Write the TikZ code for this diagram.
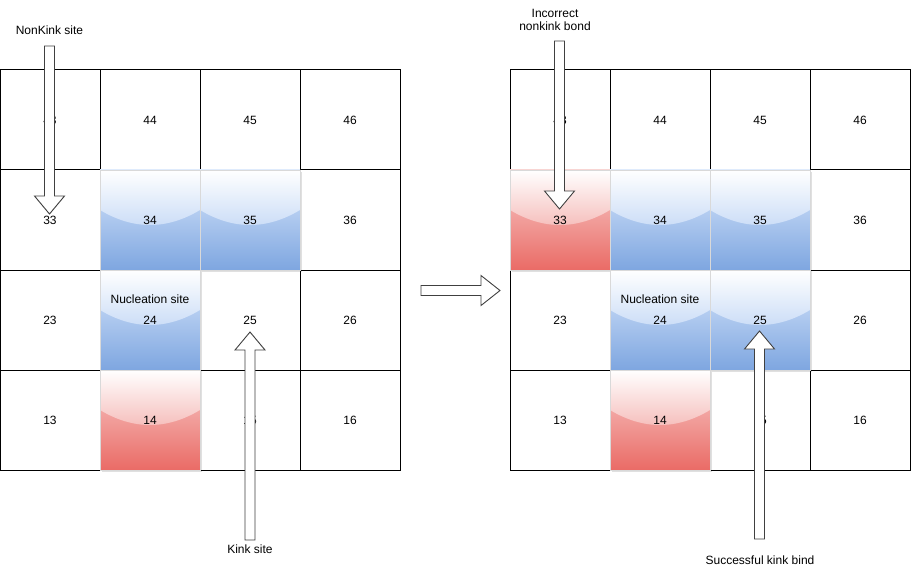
\documentclass[tikz,border=0pt]{standalone}
\usepackage{fontspec}
\setmainfont{Liberation Sans}
\usetikzlibrary{calc}
\definecolor{blueA}{HTML}{DAE8FC}
\definecolor{blueB}{HTML}{7EA6E0}
\definecolor{redA}{HTML}{F8CECC}
\definecolor{redB}{HTML}{EA6B66}
\colorlet{blueH}{blueA!80!blueB}
\colorlet{redH}{redA!80!redB}
\tikzset{
  gridcell/.style={draw=black, line width=1pt, fill=white, minimum size=100pt, inner sep=0pt, font=\fontsize{12}{14}\selectfont},
  celltext/.style={inner sep=0pt, font=\fontsize{12}{14}\selectfont},
  lbl/.style={inner sep=0pt, align=center, font=\fontsize{12}{13}\selectfont},
  blockarrow/.style={draw=black!75, fill=white, line width=0.9pt, line join=miter},
}
\newcommand\glasscell[5]{%
  \begin{scope}[shift={(#2,#3)}]
    \fill[black, opacity=0.12] (2,2) rectangle (102,102);
    \shade[top color=#5A, bottom color=#5B] (0,0) rectangle (100,100);
    \shade[top color=white, bottom color=#5H] (0,0) -- (100,0) -- (100,40) .. controls (66.67,60) and (33.33,60) .. (0,40) -- cycle;
    \draw[white!85!black, line width=0.6pt] (0,0) rectangle (100,100);
    \node[celltext] (#1) at (50,50) {#4};
  \end{scope}}
\newcommand\varrow[3]{%
  \draw[blockarrow] ($(#1)+(-5,0)$) -- ($(#1)+(5,0)$) -- ($(#2)+(5,#3)$) -- ($(#2)+(15,#3)$) -- (#2) -- ($(#2)+(-15,#3)$) -- ($(#2)+(-5,#3)$) -- cycle;}
\begin{document}
\begin{tikzpicture}[x=1pt,y=-1pt]
\fill[white] (0,0) rectangle (912,572);
\useasboundingbox (0,0) rectangle (912,572);
% left grid
\node[gridcell] (L43) at (50,120) {43};
\node[gridcell] (L44) at (150,120) {44};
\node[gridcell] (L45) at (250,120) {45};
\node[gridcell] (L46) at (350,120) {46};
\node[gridcell] (L33) at (50,220) {33};
\node[gridcell] (L34g) at (150,220) {};
\node[gridcell] (L35g) at (250,220) {};
\node[gridcell] (L36) at (350,220) {36};
\node[gridcell] (L23) at (50,320) {23};
\node[gridcell] (L24g) at (150,320) {};
\node[gridcell] (L25) at (250,320) {25};
\node[gridcell] (L26) at (350,320) {26};
\node[gridcell] (L13) at (50,420) {13};
\node[gridcell] (L14g) at (150,420) {};
\node[gridcell] (L15) at (250,420) {15};
\node[gridcell] (L16) at (350,420) {16};
% right grid
\node[gridcell] (R43) at (560,120) {43};
\node[gridcell] (R44) at (660,120) {44};
\node[gridcell] (R45) at (760,120) {45};
\node[gridcell] (R46) at (860,120) {46};
\node[gridcell] (R33g) at (560,220) {};
\node[gridcell] (R34g) at (660,220) {};
\node[gridcell] (R35g) at (760,220) {};
\node[gridcell] (R36) at (860,220) {36};
\node[gridcell] (R23) at (560,320) {23};
\node[gridcell] (R24g) at (660,320) {};
\node[gridcell] (R25g) at (760,320) {};
\node[gridcell] (R26) at (860,320) {26};
\node[gridcell] (R13) at (560,420) {13};
\node[gridcell] (R14g) at (660,420) {};
\node[gridcell] (R15) at (760,420) {15};
\node[gridcell] (R16) at (860,420) {16};
% glass cells
\glasscell{L34}{100}{170}{34}{blue}
\glasscell{L35}{200}{170}{35}{blue}
\glasscell{L24}{100}{270}{24}{blue}
\glasscell{L14}{100}{370}{14}{red}
\glasscell{R33}{510}{170}{33}{red}
\glasscell{R34}{610}{170}{34}{blue}
\glasscell{R35}{710}{170}{35}{blue}
\glasscell{R24}{610}{270}{24}{blue}
\glasscell{R25}{710}{270}{25}{blue}
\glasscell{R14}{610}{370}{14}{red}
\node[lbl] (Lnuc) at (150,299) {Nucleation site};
\node[lbl] (Rnuc) at (660,299) {Nucleation site};
% labels
\node[lbl] (nk) at (49.5,30) {NonKink site};
\node[lbl] (inc) at (555,19.5) {Incorrect\\nonkink bond};
\node[lbl] (ks) at (250,549) {Kink site};
\node[lbl] (skb) at (760,560) {Successful kink bind};
% arrows
\coordinate (a1s) at (49.5,46);  \coordinate (a1t) at (49.5,214);
\coordinate (a2s) at (250,540);  \coordinate (a2t) at (250,332);
\coordinate (a3s) at (559.5,41); \coordinate (a3t) at (559.5,209);
\coordinate (a4s) at (759.5,539);\coordinate (a4t) at (759.5,331);
\coordinate (a5s) at (421,290.5);\coordinate (a5t) at (500,290.5);
\varrow{a1s}{a1t}{-18}
\varrow{a2s}{a2t}{18}
\varrow{a3s}{a3t}{-18}
\varrow{a4s}{a4t}{18}
\draw[blockarrow] ($(a5s)+(0,-5)$) -- ($(a5t)+(-19,-5)$) -- ($(a5t)+(-19,-15)$) -- (a5t) -- ($(a5t)+(-19,15)$) -- ($(a5t)+(-19,5)$) -- ($(a5s)+(0,5)$) -- cycle;
\end{tikzpicture}
\end{document}
